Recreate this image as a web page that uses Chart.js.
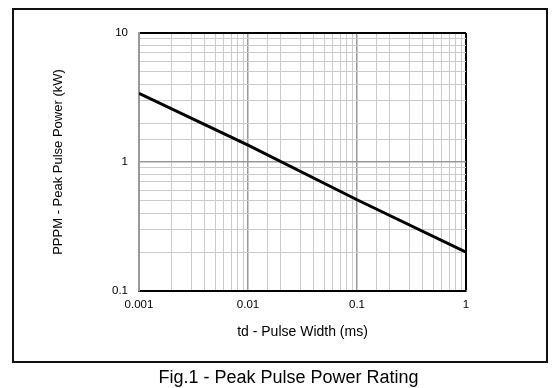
<!DOCTYPE html>
<html>
<head>
<meta charset="utf-8">
<script src="https://cdn.jsdelivr.net/npm/chart.js@4/dist/chart.umd.min.js"></script>
<style>
  html, body { margin: 0; padding: 0; background: #fff; }
  #wrap { position: relative; width: 559px; height: 388px; }
  #c { position: absolute; left: 0; top: 0; }
  #caption { position: absolute; left: 0; top: 367px; width: 577px; text-align: center;
    font-family: "Liberation Sans", Arial, sans-serif; font-size: 18px; color: #000; line-height: 20px; }
</style>
</head>
<body>
<div id="wrap">
  <canvas id="c" width="559" height="388"></canvas>
  <div id="caption">Fig.1 - Peak Pulse Power Rating</div>
</div>
<script>
const pulseWidth = [0.001, 0.01, 0.1, 1];          // td (ms)
const peakPower = [3.4, 1.35, 0.51, 0.2];           // PPPM (kW)
const xTickLabels = ['0.001', '0.01', '0.1', '1'];
const yTickLabels = ['0.1', '1', '10'];
const xTitle = 'td - Pulse Width (ms)';
const yTitle = 'PPPM - Peak Pulse Power (kW)';

const FONT = '"Liberation Sans", Arial, sans-serif';

function isDecade(v) {
  const l = Math.log10(v);
  return Math.abs(l - Math.round(l)) < 1e-6;
}
function labelFor(v, list) {
  for (const s of list) {
    if (Math.abs(Math.log10(v) - Math.log10(parseFloat(s))) < 1e-6) return s;
  }
  return '';
}

const outerBox = {
  id: 'outerBox',
  beforeDraw(chart) {
    const ctx = chart.ctx;
    ctx.save();
    ctx.fillStyle = '#fff';
    ctx.fillRect(0, 0, chart.width, chart.height);
    ctx.strokeStyle = '#111';
    ctx.lineWidth = 2;
    ctx.strokeRect(13, 9, 534, 353);
    ctx.restore();
  }
};

new Chart(document.getElementById('c'), {
  type: 'line',
  data: {
    datasets: [{
      data: pulseWidth.map((x, i) => ({ x: x, y: peakPower[i] })),
      borderColor: '#000',
      borderWidth: 3,
      pointRadius: 0,
      tension: 0,
      fill: false
    }]
  },
  options: {
    responsive: false,
    animation: false,
    devicePixelRatio: 1,
    layout: { padding: { left: 0, top: 33, right: 93, bottom: 0 } },
    plugins: { legend: { display: false }, tooltip: { enabled: false } },
    scales: {
      x: {
        type: 'logarithmic',
        min: 0.001,
        max: 1,
        afterFit(s) { s.height = 97; },
        border: { display: true, color: '#000', width: 2 },
        grid: {
          drawTicks: false,
          color(c) {
            const v = c.tick && c.tick.value;
            if (v === undefined) return '#c8c8c8';
            if (Math.abs(v - 1) < 1e-9) return '#000';
            return isDecade(v) ? '#999999' : '#cbcbcb';
          },
          lineWidth(c) {
            const v = c.tick && c.tick.value;
            if (v === undefined) return 1;
            if (Math.abs(v - 1) < 1e-9) return 2;
            return isDecade(v) ? 1.5 : 1;
          }
        },
        ticks: {
          autoSkip: false,
          maxRotation: 0,
          padding: 7,
          color: '#000',
          font: { family: FONT, size: 11.5 },
          callback(v) { return labelFor(v, xTickLabels); }
        },
        title: {
          display: true,
          text: xTitle,
          color: '#000',
          font: { family: FONT, size: 14 },
          padding: { top: 0, bottom: 47 }
        }
      },
      y: {
        type: 'logarithmic',
        min: 0.1,
        max: 10,
        afterFit(s) { s.width = 139; },
        border: { display: true, color: '#999999', width: 2 },
        grid: {
          drawTicks: false,
          color(c) {
            const v = c.tick && c.tick.value;
            if (v === undefined) return '#c8c8c8';
            if (Math.abs(v - 10) < 1e-9) return '#000';
            return isDecade(v) ? '#999999' : '#cbcbcb';
          },
          lineWidth(c) {
            const v = c.tick && c.tick.value;
            if (v === undefined) return 1;
            if (Math.abs(v - 10) < 1e-9) return 2;
            return isDecade(v) ? 1.5 : 1;
          }
        },
        ticks: {
          autoSkip: false,
          padding: 11,
          color: '#000',
          font: { family: FONT, size: 11.5 },
          callback(v) { return labelFor(v, yTickLabels); }
        },
        title: {
          display: true,
          text: yTitle,
          color: '#000',
          font: { family: FONT, size: 13 },
          padding: { top: 51, bottom: 0 }
        }
      }
    }
  },
  plugins: [outerBox]
});
</script>
</body>
</html>
